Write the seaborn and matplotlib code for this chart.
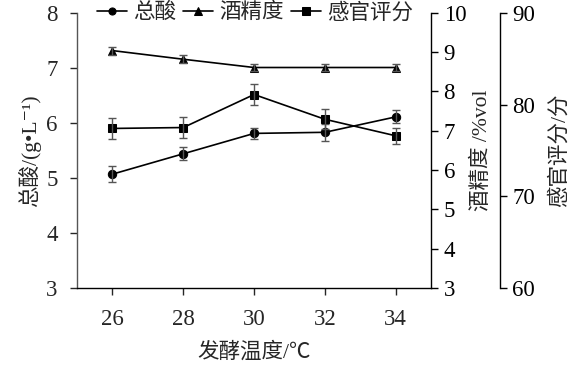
import numpy as np
import pandas as pd
import matplotlib
matplotlib.use('Agg')
import matplotlib.pyplot as plt
import seaborn as sns

# fermentation temperature (C)
temps = [26, 28, 30, 32, 34]
# total acid g/L
acid = [5.07, 5.44, 5.81, 5.83, 6.11]
acid_err = [0.15, 0.12, 0.10, 0.15, 0.12]
# alcohol %vol
alcohol = [9.04, 8.82, 8.61, 8.61, 8.61]
alcohol_err = [0.10, 0.10, 0.08, 0.08, 0.08]
# sensory score
score = [77.4, 77.5, 81.1, 78.4, 76.6]
score_err = [1.1, 1.1, 1.1, 1.1, 0.9]

labels = ['总酸', '酒精度', '感官评分']

sns.set_theme(style='ticks')
plt.rcParams['font.family'] = ['Liberation Serif', 'Noto Sans CJK SC', 'DejaVu Serif']

fig, ax = plt.subplots(figsize=(5.71, 3.67), dpi=100)
fig.subplots_adjust(left=0.135, right=0.755, bottom=0.215, top=0.965)
ax2 = ax.twinx()
ax3 = ax.twinx()
ax3.spines['right'].set_position(('outward', 49.5))

handles = []
for a, y, e, m in [(ax, acid, acid_err, 'o'),
                   (ax2, alcohol, alcohol_err, '^'),
                   (ax3, score, score_err, 's')]:
    sns.lineplot(x=temps, y=y, ax=a, marker=m, color='black', markersize=6,
                 markeredgecolor='black', linewidth=1.2, legend=False)
    handles.append(a.lines[-1])
    a.errorbar(temps, y, yerr=e, fmt='none', ecolor='#555555', capsize=3,
               elinewidth=1, capthick=1)

ax.set_xlim(25, 35)
ax.set_ylim(3, 8)
ax2.set_ylim(3, 10)
ax3.set_ylim(60, 90)
ax.set_xticks(temps)
ax.set_yticks(range(3, 9))
ax2.set_yticks(range(3, 11))
ax3.set_yticks([60, 70, 80, 90])

for s in ['top', 'right']:
    ax.spines[s].set_visible(False)
for a in [ax2, ax3]:
    for s in ['top', 'left', 'bottom']:
        a.spines[s].set_visible(False)
    a.spines['right'].set_color('black')
    a.spines['right'].set_linewidth(1)
    a.tick_params(axis='y', direction='out', length=5, width=1, pad=4,
                  labelsize=16.5, colors='black')
ax.spines['left'].set_color('#555555')
ax.spines['bottom'].set_color('black')
for s in ax.spines.values():
    s.set_linewidth(1)
ax.tick_params(axis='y', direction='out', length=5, width=1, pad=9, labelsize=16.5)
ax.tick_params(axis='x', direction='out', length=5, width=1, pad=10, labelsize=16.5)

ax.set_xlabel('发酵温度/℃', fontsize=15.5, labelpad=9)
ax.set_ylabel('总酸/(g•L⁻¹)', fontsize=15.5, labelpad=4)
ax2.set_ylabel('酒精度 /%vol', fontsize=15.5, labelpad=4)
ax3.set_ylabel('感官评分/分', fontsize=15.5, labelpad=10)

fig.legend(handles, labels, loc='center', bbox_to_anchor=(255 / 571, 1 - 13 / 367),
           ncol=3, frameon=False, handlelength=1.4, handletextpad=0.3,
           columnspacing=0.3, fontsize=15.5, borderpad=0, markerscale=0.85)

fig.savefig('out.png', dpi=100)
